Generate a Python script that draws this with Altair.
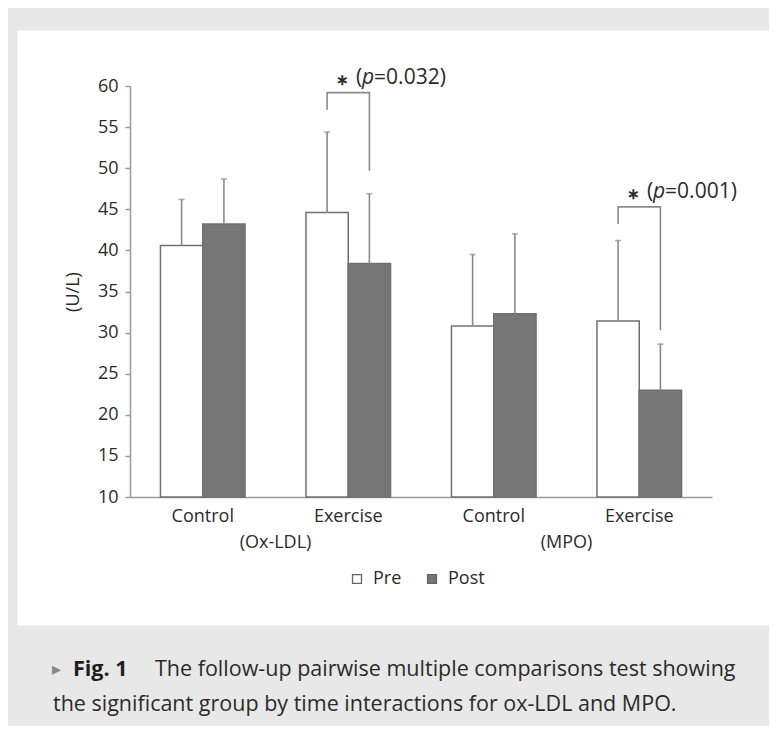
import altair as alt
import pandas as pd

# ---- data ----
groups = ["Control (Ox-LDL)", "Exercise (Ox-LDL)", "Control (MPO)", "Exercise (MPO)"]
times = ["Pre", "Post"]
pre_mean = [40.6, 44.6, 30.8, 31.4]
pre_upper = [46.2, 54.4, 39.5, 41.2]
post_mean = [43.2, 38.4, 32.3, 23.0]
post_upper = [48.7, 46.9, 42.0, 28.6]

y_ticks = [10, 15, 20, 25, 30, 35, 40, 45, 50, 55, 60]

# significance brackets (polyline: left leg bottom, top-left, top-right, right leg bottom)
br_id = ["ox", "ox", "ox", "ox", "mpo", "mpo", "mpo", "mpo"]
br_group = ["Exercise (Ox-LDL)"] * 4 + ["Exercise (MPO)"] * 4
br_time = ["Pre", "Pre", "Post", "Post"] * 2
br_y = [57.1, 59.2, 59.2, 49.7, 43.2, 45.3, 45.3, 30.3]
br_order = [0, 1, 2, 3] * 2

ann_group = ["Exercise (Ox-LDL)", "Exercise (MPO)"]
ann_time = ["Pre", "Pre"]
ann_y = [59.2, 45.3]
ann_p = ["=0.032)", "=0.001)"]

sub_group = ["Control (Ox-LDL)", "Control (MPO)"]
sub_label = ["(Ox-LDL)", "(MPO)"]

caption_line1 = "The follow-up pairwise multiple comparisons test showing"
caption_line2 = "the significant group by time interactions for ox-LDL and MPO."

# ---- tables ----
bars = pd.DataFrame({
    "group": groups * 2,
    "time": ["Pre"] * 4 + ["Post"] * 4,
    "mean": pre_mean + post_mean,
    "upper": pre_upper + post_upper,
})
brackets = pd.DataFrame({"id": br_id, "group": br_group, "time": br_time,
                         "value": br_y, "order": br_order})
ann = pd.DataFrame({"group": ann_group, "time": ann_time, "value": ann_y, "p": ann_p})
subs = pd.DataFrame({"group": sub_group, "label": sub_label})

FONT = "Open Sans"
TXT = "#2b2b2b"
LINE = "#8a8a8a"

W, H = 752, 595
xscale = alt.Scale(domain=groups, range=[113, 695], paddingInner=0, paddingOuter=0)
xoff = alt.Scale(domain=times, paddingInner=0, paddingOuter=0.72)
yscale = alt.Scale(domain=[10, 60], range=[467, 56], nice=False, zero=False)

x_axis = alt.Axis(title=None, ticks=False, offset=-(H - 467), labelExpr="split(datum.label, ' ')[0]",
                  labelFontSize=18, labelColor=TXT, labelFont=FONT, labelPadding=10,
                  domainColor="#9a9a9a", domainWidth=1.5, labelAngle=0)
y_axis = alt.Axis(title="(U/L)", values=y_ticks, offset=-113, grid=False,
                  tickSize=5, tickColor="#9a9a9a", tickWidth=1.5,
                  domainColor="#9a9a9a", domainWidth=1.5,
                  labelFontSize=18, labelColor=TXT, labelFont=FONT, labelPadding=7,
                  titleFontSize=18, titleFont=FONT, titleColor=TXT, titleFontWeight="normal",
                  titlePadding=15)

base = alt.Chart(bars)

bar_layer = base.mark_bar(stroke="#707070", strokeWidth=1.5).encode(
    x=alt.X("group:N", scale=xscale, axis=x_axis, sort=groups),
    xOffset=alt.XOffset("time:N", scale=xoff, sort=times),
    y=alt.Y("mean:Q", scale=yscale, axis=y_axis),
    y2=alt.datum(10),
    fill=alt.Fill("time:N", scale=alt.Scale(domain=times, range=["#ffffff", "#767676"]),
                  legend=alt.Legend(title=None, orient="none", legendX=331, legendY=540,
                                    direction="horizontal", symbolType="square", symbolSize=80,
                                    symbolStrokeColor="#666666", symbolStrokeWidth=1.3,
                                    labelFontSize=18, labelFont=FONT, labelColor=TXT,
                                    labelOffset=7, columnPadding=21)),
)

err_rule = base.mark_rule(color=LINE, strokeWidth=1.6).encode(
    x=alt.X("group:N", scale=xscale, sort=groups),
    xOffset=alt.XOffset("time:N", scale=xoff, sort=times),
    y=alt.Y("mean:Q", scale=yscale),
    y2="upper:Q",
)
err_cap = base.mark_tick(color=LINE, size=6, thickness=1.6).encode(
    x=alt.X("group:N", scale=xscale, sort=groups),
    xOffset=alt.XOffset("time:N", scale=xoff, sort=times),
    y=alt.Y("upper:Q", scale=yscale),
)

bracket_layer = alt.Chart(brackets).mark_line(color=LINE, strokeWidth=1.6).encode(
    x=alt.X("group:N", scale=xscale, sort=groups),
    xOffset=alt.XOffset("time:N", scale=xoff, sort=times),
    y=alt.Y("value:Q", scale=yscale),
    detail="id:N",
    order="order:Q",
)

ann_base = alt.Chart(ann).encode(
    x=alt.X("group:N", scale=xscale, sort=groups),
    xOffset=alt.XOffset("time:N", scale=xoff, sort=times),
    y=alt.Y("value:Q", scale=yscale),
)
ann_star = ann_base.mark_text(text="∗", align="left", baseline="middle", dx=9, dy=-13,
                              fontSize=15, font=FONT, color=TXT, fontWeight="bold")
ann_par = ann_base.mark_text(text="(", align="left", baseline="middle", dx=29, dy=-15,
                             fontSize=21, font=FONT, color=TXT)
ann_pi = ann_base.mark_text(text="p", align="left", baseline="middle", dx=35, dy=-15,
                            fontSize=21, font=FONT, color=TXT, fontStyle="italic")
ann_val = ann_base.mark_text(align="left", baseline="middle", dx=47, dy=-15,
                             fontSize=21, font=FONT, color=TXT).encode(text="p:N")

sub_layer = alt.Chart(subs).mark_text(baseline="middle", dy=46, fontSize=18, font=FONT, color=TXT).encode(
    x=alt.X("group:N", scale=xscale, sort=groups, bandPosition=1),
    y=alt.Y(datum=10, scale=yscale),
    text="label:N",
)

cap_df = pd.DataFrame({"l1": [caption_line1], "l2": [caption_line2]})
cap = alt.Chart(cap_df)
cap_tri = cap.mark_text(text="▸", align="left", baseline="middle", fontSize=18, color="#8a8a8a",
                        font=FONT).encode(x=alt.value(35), y=alt.value(640))
cap_fig = cap.mark_text(text="Fig. 1", align="left", baseline="middle", fontSize=21.5, fontWeight="bold",
                        color="#1e1e1e", font=FONT).encode(x=alt.value(56), y=alt.value(640))
cap_l1 = cap.mark_text(align="left", baseline="middle", fontSize=21.5, color=TXT, font=FONT).encode(
    x=alt.value(138), y=alt.value(640), text="l1:N")
cap_l2 = cap.mark_text(align="left", baseline="middle", fontSize=21.5, color=TXT, font=FONT).encode(
    x=alt.value(36), y=alt.value(675), text="l2:N")

chart = alt.layer(
    bar_layer, err_rule, err_cap, bracket_layer, ann_star, ann_par, ann_pi, ann_val, sub_layer,
    cap_tri, cap_fig, cap_l1, cap_l2,
).properties(
    width=W, height=H,
    autosize=alt.AutoSizeParams(type="none"),
    padding={"left": 9, "top": 22, "right": 0, "bottom": 101},
    background="#e8e8e8",
).configure_view(fill="#ffffff", stroke="transparent")

chart.save("out.html", embed_options={"renderer": "svg", "actions": False})
